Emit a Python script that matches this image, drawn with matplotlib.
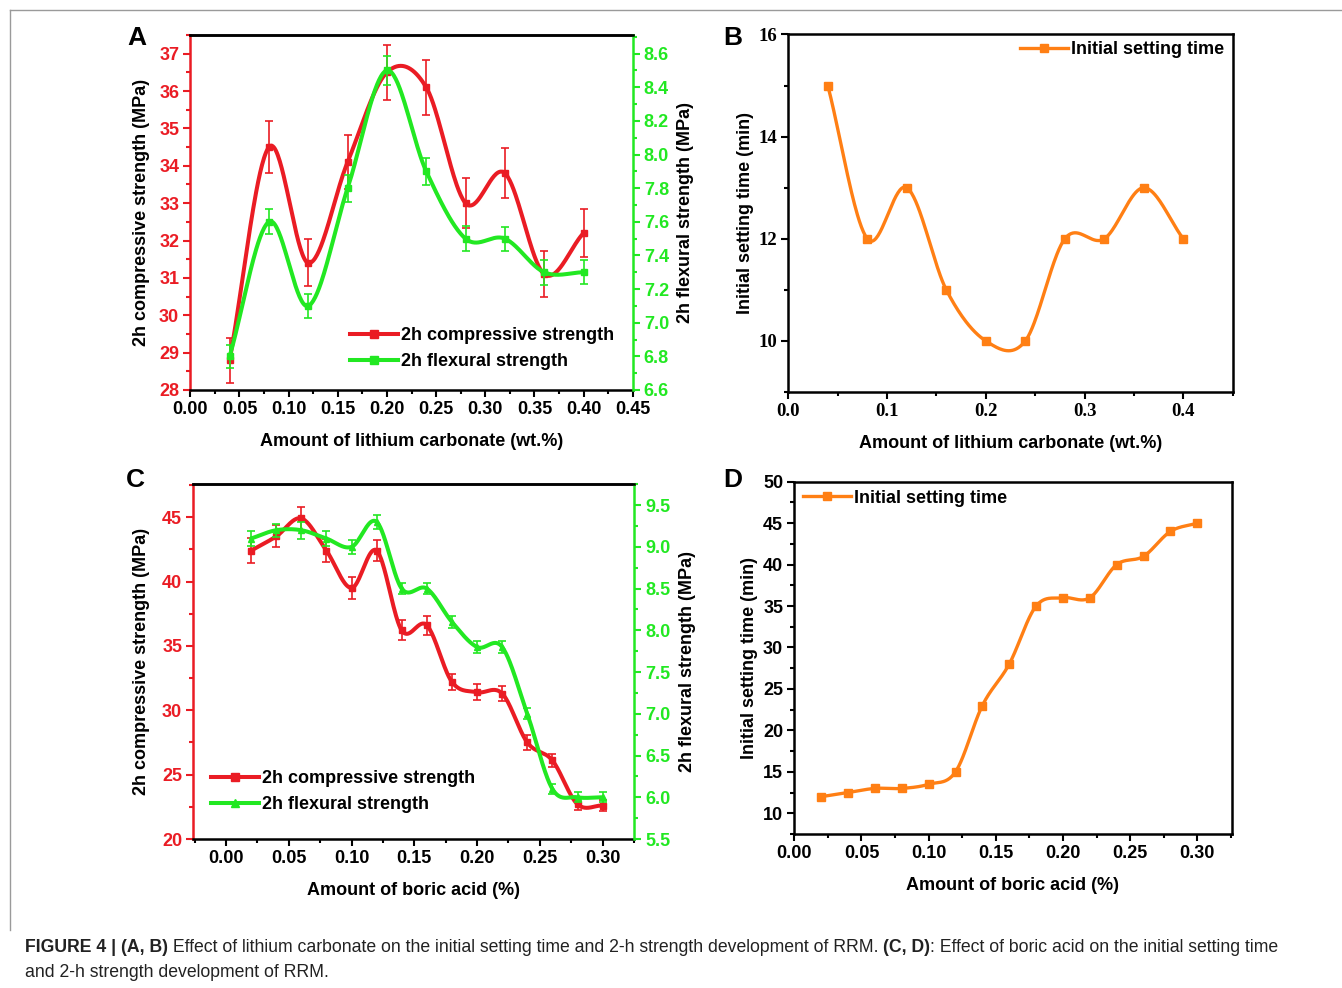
import numpy as np
import matplotlib
matplotlib.use("Agg")
import matplotlib.pyplot as plt
from matplotlib.lines import Line2D
from matplotlib.ticker import MultipleLocator, FormatStrFormatter

# ---------------- data ----------------
li_x = [0.04, 0.08, 0.12, 0.16, 0.20, 0.24, 0.28, 0.32, 0.36, 0.40]
li_comp = [28.8, 34.5, 31.4, 34.1, 36.5, 36.1, 33.0, 33.8, 31.1, 32.2]
li_comp_err = [0.6, 0.7, 0.63, 0.72, 0.74, 0.74, 0.66, 0.67, 0.62, 0.65]
li_flex = [6.8, 7.6, 7.1, 7.8, 8.5, 7.9, 7.5, 7.5, 7.3, 7.3]
li_flex_err = [0.07, 0.075, 0.07, 0.08, 0.085, 0.08, 0.073, 0.072, 0.074, 0.072]
li_set = [15, 12, 13, 11, 10, 10, 12, 12, 13, 12]

bo_x = [0.02, 0.04, 0.06, 0.08, 0.10, 0.12, 0.14, 0.16, 0.18, 0.20, 0.22, 0.24, 0.26, 0.28, 0.30]
bo_comp = [42.4, 43.5, 44.9, 42.4, 39.5, 42.4, 36.2, 36.6, 32.2, 31.4, 31.3, 27.5, 26.1, 22.7, 22.6]
bo_comp_err = [0.95, 0.85, 0.87, 0.9, 0.85, 0.83, 0.78, 0.74, 0.65, 0.62, 0.6, 0.55, 0.52, 0.45, 0.45]
bo_flex = [9.1, 9.2, 9.2, 9.1, 9.0, 9.3, 8.5, 8.5, 8.1, 7.8, 7.8, 7.0, 6.1, 6.0, 6.0]
bo_flex_err = [0.085, 0.08, 0.1, 0.085, 0.085, 0.085, 0.07, 0.07, 0.07, 0.07, 0.075, 0.068, 0.06, 0.06, 0.06]
bo_set = [12, 12.5, 13, 13, 13.5, 15, 23, 28, 35, 36, 36, 40, 41, 44, 45]

caption_parts = [
    ("FIGURE 4 | (A, B)", True),
    (" Effect of lithium carbonate on the initial setting time and 2-h strength development of RRM. ", False),
    ("(C, D)", True),
    (": Effect of boric acid on the initial setting time", False),
]
caption_line2 = "and 2-h strength development of RRM."

RED = "#ea1c24"
GREEN = "#22e822"
ORANGE = "#ff7f14"

W, H = 1342, 988
plt.rcParams['font.family'] = ['Liberation Sans', 'DejaVu Sans']
plt.rcParams['font.weight'] = 'bold'
plt.rcParams['axes.labelweight'] = 'bold'
plt.rcParams['font.size'] = 13

fig = plt.figure(figsize=(W / 100, H / 100), dpi=100)


def axpos(l, r, t, b):
    return [l / W, 1 - b / H, (r - l) / W, (b - t) / H]


def smooth(x, y, n=40):
    """Cubic Hermite (Catmull-Rom) curve through the data points."""
    x = np.asarray(x, float)
    y = np.asarray(y, float)
    m = np.empty_like(y)
    m[1:-1] = (y[2:] - y[:-2]) / (x[2:] - x[:-2])
    m[0] = (y[1] - y[0]) / (x[1] - x[0])
    m[-1] = (y[-1] - y[-2]) / (x[-1] - x[-2])
    xs, ys = [], []
    for i in range(len(x) - 1):
        h = x[i + 1] - x[i]
        t = np.linspace(0, 1, n, endpoint=(i == len(x) - 2))
        h00 = 2 * t**3 - 3 * t**2 + 1
        h10 = t**3 - 2 * t**2 + t
        h01 = -2 * t**3 + 3 * t**2
        h11 = t**3 - t**2
        ys.append(h00 * y[i] + h10 * h * m[i] + h01 * y[i + 1] + h11 * h * m[i + 1])
        xs.append(x[i] + t * h)
    return np.concatenate(xs), np.concatenate(ys)


def style_x(ax, major, minor, fmt):
    ax.xaxis.set_major_locator(MultipleLocator(major))
    ax.xaxis.set_minor_locator(MultipleLocator(minor))
    ax.xaxis.set_major_formatter(FormatStrFormatter(fmt))
    ax.tick_params(axis='x', which='major', direction='out', length=5, width=1.5, pad=3, labelsize=13)
    ax.tick_params(axis='x', which='minor', direction='out', length=2.8, width=1.5)
    ax.tick_params(axis='x', top=False, which='both')


def style_y(ax, major, minor, fmt, color='black'):
    ax.yaxis.set_major_locator(MultipleLocator(major))
    ax.yaxis.set_minor_locator(MultipleLocator(minor))
    ax.yaxis.set_major_formatter(FormatStrFormatter(fmt))
    ax.tick_params(axis='y', which='major', direction='out', length=5, width=1.5, pad=3,
                   labelsize=13, colors=color)
    ax.tick_params(axis='y', which='minor', direction='out', length=2.8, width=1.5, colors=color)


def series(ax, x, y, err, color, marker, ms=5, lw=2.9):
    sx, sy = smooth(x, y)
    if err is not None:
        ax.errorbar(x, y, yerr=err, fmt='none', ecolor=color, elinewidth=1.2,
                    capsize=3.0, capthick=1.2, zorder=2)
    ax.plot(sx, sy, color=color, lw=lw, zorder=3, solid_capstyle='round')
    ax.plot(x, y, linestyle='none', marker=marker, ms=ms, color=color, zorder=4)


def set_label_px(ax, which, text, pos_px, l, r, t, b):
    if which == 'x':
        ax.set_xlabel(text, va='center', ha='center', fontsize=13)
        ax.xaxis.set_label_coords(0.5, (b - pos_px) / (b - t))
    else:
        ax.set_ylabel(text, va='center', ha='center', fontsize=13)
        ax.yaxis.set_label_coords((pos_px - l) / (r - l), 0.5)


def dual_panel(box, x, comp, comp_err, flex, flex_err, xlim, ylim1, ylim2,
               xmaj, xmin, y1maj, y1min, y1fmt, y2maj, y2min, xlabel, xlab_y,
               ylab1_x, ylab2_x, flex_marker):
    l, r, t, b = box
    ax = fig.add_axes(axpos(l, r, t, b))
    ax2 = ax.twinx()
    series(ax, x, comp, comp_err, RED, 's', 5)
    series(ax2, x, flex, flex_err, GREEN, flex_marker, 5)
    ax.set_xlim(*xlim)
    ax.set_ylim(*ylim1)
    ax2.set_ylim(*ylim2)
    for s in ax.spines.values():
        s.set_linewidth(1.8)
    for s in ax2.spines.values():
        s.set_linewidth(1.8)
    ax.spines['left'].set_color(RED)
    ax.spines['right'].set_visible(False)
    ax2.spines['left'].set_visible(False)
    ax2.spines['right'].set_color(GREEN)
    ax2.spines['bottom'].set_visible(False)
    style_x(ax, xmaj, xmin, '%.2f')
    style_y(ax, y1maj, y1min, y1fmt, RED)
    style_y(ax2, y2maj, y2min, '%.1f', GREEN)
    ax.tick_params(axis='y', right=False, which='both')
    set_label_px(ax, 'x', xlabel, xlab_y, l, r, t, b)
    set_label_px(ax, 'y', '2h compressive strength (MPa)', ylab1_x, l, r, t, b)
    ax2.set_ylabel('2h flexural strength (MPa)', va='center', ha='center', fontsize=13)
    ax2.yaxis.set_label_coords((ylab2_x - l) / (r - l), 0.5)
    return ax, ax2


def legend_px(ax, handles, labels, x_px, y_px):
    ax.legend(handles, labels, loc='center left',
              bbox_to_anchor=(x_px / W, 1 - y_px / H), bbox_transform=fig.transFigure,
              frameon=False, borderpad=0, borderaxespad=0, fontsize=13,
              handlelength=2.65, handletextpad=0.2, labelspacing=0.48)


# ---------------- Panel A ----------------
boxA = (190.3, 632.7, 35, 390)
axA, axA2 = dual_panel(boxA, li_x, li_comp, li_comp_err, li_flex, li_flex_err,
                       (0, 0.45), (28, 37.5), (6.6, 8.711),
                       0.05, 0.025, 1, 0.5, '%d', 0.2, 0.1,
                       'Amount of lithium carbonate (wt.%)', 442, 141, 685, 's')
hA = [Line2D([], [], color=RED, lw=2.9, marker='s', ms=5.5),
      Line2D([], [], color=GREEN, lw=2.9, marker='s', ms=5.5)]
legend_px(axA2, hA, ['2h compressive strength', '2h flexural strength'], 350, 348.5)

# ---------------- Panel B ----------------
lB, rB, tB, bB = 788.3, 1232.7, 34.5, 392
axB = fig.add_axes(axpos(lB, rB, tB, bB))
series(axB, li_x, li_set, None, ORANGE, 's', 5.5, lw=2.4)
axB.set_xlim(0, 0.45)
axB.set_ylim(9, 16)
for s in axB.spines.values():
    s.set_linewidth(1.8)
style_x(axB, 0.1, 0.05, '%.1f')
style_y(axB, 2, 1, '%d')
axB.tick_params(axis='both', labelsize=13.5)
for lbl in axB.get_xticklabels() + axB.get_yticklabels():
    lbl.set_fontfamily('Liberation Serif')
set_label_px(axB, 'x', 'Amount of lithium carbonate (wt.%)', 444, lB, rB, tB, bB)
set_label_px(axB, 'y', 'Initial setting time (min)', 745, lB, rB, tB, bB)
legend_px(axB, [Line2D([], [], color=ORANGE, lw=2.4, marker='s', ms=5.5)],
          ['Initial setting time'], 1020, 50)

# ---------------- Panel C ----------------
boxC = (193.3, 634, 484.3, 839)
axC, axC2 = dual_panel(boxC, bo_x, bo_comp, bo_comp_err, bo_flex, bo_flex_err,
                       (-0.026, 0.325), (20, 47.55), (5.5, 9.75),
                       0.05, 0.025, 5, 2.5, '%d', 0.5, 0.25,
                       'Amount of boric acid (%)', 890, 142, 687, '^')
hC = [Line2D([], [], color=RED, lw=2.9, marker='s', ms=5.5),
      Line2D([], [], color=GREEN, lw=2.9, marker='^', ms=5.5)]
legend_px(axC2, hC, ['2h compressive strength', '2h flexural strength'], 211, 791.5)

# ---------------- Panel D ----------------
lD, rD, tD, bD = 794.3, 1231.7, 481.7, 834
axD = fig.add_axes(axpos(lD, rD, tD, bD))
series(axD, bo_x, bo_set, None, ORANGE, 's', 5.5, lw=2.4)
axD.set_xlim(0, 0.3256)
axD.set_ylim(7.5, 50)
for s in axD.spines.values():
    s.set_linewidth(1.8)
style_x(axD, 0.05, 0.025, '%.2f')
style_y(axD, 5, 2.5, '%d')
set_label_px(axD, 'x', 'Amount of boric acid (%)', 885, lD, rD, tD, bD)
set_label_px(axD, 'y', 'Initial setting time (min)', 750, lD, rD, tD, bD)
legend_px(axD, [Line2D([], [], color=ORANGE, lw=2.4, marker='s', ms=5.5)],
          ['Initial setting time'], 803, 498)

# ---------------- panel letters ----------------
for letter, (px, py) in {'A': (137, 38), 'B': (733, 38), 'C': (135, 480), 'D': (733, 480)}.items():
    fig.text(px / W, 1 - py / H, letter, fontsize=19, fontweight='bold', ha='center', va='center')

# ---------------- frame ----------------
fig.add_artist(Line2D([10 / W, 1], [1 - 10 / H, 1 - 10 / H], transform=fig.transFigure,
                      color='#9a9a9a', lw=1))
fig.add_artist(Line2D([10 / W, 10 / W], [1 - 10 / H, 1 - 930 / H], transform=fig.transFigure,
                      color='#9a9a9a', lw=1))

# ---------------- caption ----------------
cap_family = ['Liberation Sans Narrow', 'Liberation Sans']
renderer = fig.canvas.get_renderer()


def draw_caption(size):
    arts = []
    x = 25
    for txt, bold in caption_parts:
        a = fig.text(x / W, 1 - 947 / H, txt, fontsize=size, family=cap_family,
                     fontweight='bold' if bold else 'normal', ha='left', va='center',
                     color='#222222')
        w = a.get_window_extent(renderer).width
        x += w
        arts.append(a)
    a = fig.text(25 / W, 1 - 972 / H, caption_line2, fontsize=size, family=cap_family,
                 fontweight='normal', ha='left', va='center', color='#222222')
    arts.append(a)
    return arts, x - 25


arts, width = draw_caption(12)
for a in arts:
    a.remove()
size = 12 * 1255 / width
arts, width = draw_caption(size)

fig.savefig('out.png', dpi=100)
